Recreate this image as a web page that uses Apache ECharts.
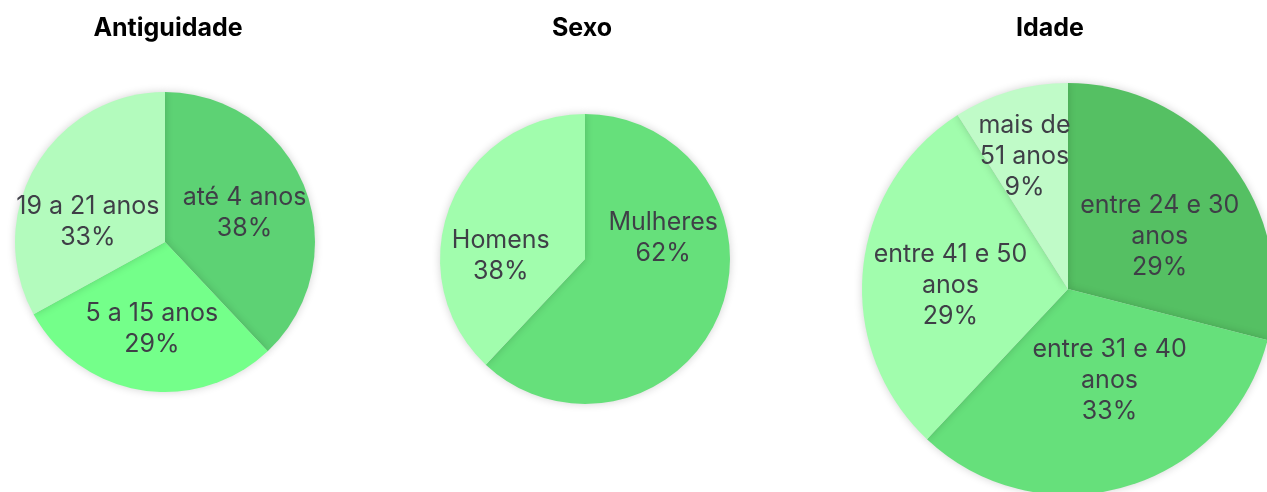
<!DOCTYPE html>
<html>
<head>
<meta charset="utf-8">
<script src="https://cdn.jsdelivr.net/npm/echarts@6/dist/echarts.min.js"></script>
<style>
  html, body { margin: 0; padding: 0; background: #fff; }
  #chart { width: 1267px; height: 492px; }
</style>
</head>
<body>
<div id="chart"></div>
<script>
// Antiguidade
const antigNames = ["até 4 anos", "5 a 15 anos", "19 a 21 anos"];
const antigValues = [38, 29, 33];
const antigColors = ["#5dd274", "#74ff8a", "#b3fbbd"];

// Sexo
const sexoNames = ["Mulheres", "Homens"];
const sexoValues = [62, 38];
const sexoColors = ["#66e07b", "#a1fdad"];

// Idade
const idadeNames = ["entre 24 e 30\nanos", "entre 31 e 40\nanos", "entre 41 e 50\nanos", "mais de\n51 anos"];
const idadeValues = [29, 33, 29, 9];
const idadeColors = ["#55c063", "#66e07b", "#a1fdad", "#c0fbc8"];

const titles = ["Antiguidade", "Sexo", "Idade"];

// nudges so the labels sit roughly where the original tool put them
const antigNudge = [[7, 0], [-1, 10], [-10, 20]];
const sexoNudge = [[8, -49], [-14, 25]];
const idadeNudge = [[8, 12], [12, -10], [-12, 6], [-14, -31]];

function toData(names, values, colors, nudge) {
  return names.map((n, i) => ({
    name: n,
    value: values[i],
    itemStyle: { color: colors[i] },
    label: { offset: nudge[i] }
  }));
}

function pieSeries(data, center, radius) {
  return {
    type: "pie",
    center: center,
    radius: radius,
    startAngle: 90,
    clockwise: true,
    animation: false,
    silent: true,
    avoidLabelOverlap: false,
    labelLayout: { hideOverlap: false },
    itemStyle: {
      borderWidth: 0,
      shadowBlur: 8,
      shadowColor: "rgba(0,0,0,0.18)"
    },
    label: {
      show: true,
      position: "inside",
      formatter: "{b}\n{d}%",
      color: "#3f3f47",
      fontFamily: "Inter",
      fontSize: 25,
      lineHeight: 31
    },
    labelLine: { show: false },
    data: data
  };
}

let myChart = echarts.init(document.getElementById("chart"));
let option = {
  backgroundColor: "#fff",
  title: [
    { text: titles[0], left: 163, top: 11, textAlign: "center" },
    { text: titles[1], left: 577, top: 11, textAlign: "center" },
    { text: titles[2], left: 1045, top: 11, textAlign: "center" }
  ].map((t) => ({
    ...t,
    textStyle: { color: "#000", fontFamily: "Inter", fontWeight: "bold", fontSize: 25 }
  })),
  series: [
    pieSeries(toData(antigNames, antigValues, antigColors, antigNudge), [165, 242], 150),
    pieSeries(toData(sexoNames, sexoValues, sexoColors, sexoNudge), [585, 259], 145),
    pieSeries(toData(idadeNames, idadeValues, idadeColors, idadeNudge), [1068, 289], 206)
  ]
};
myChart.setOption(option);
</script>
</body>
</html>
